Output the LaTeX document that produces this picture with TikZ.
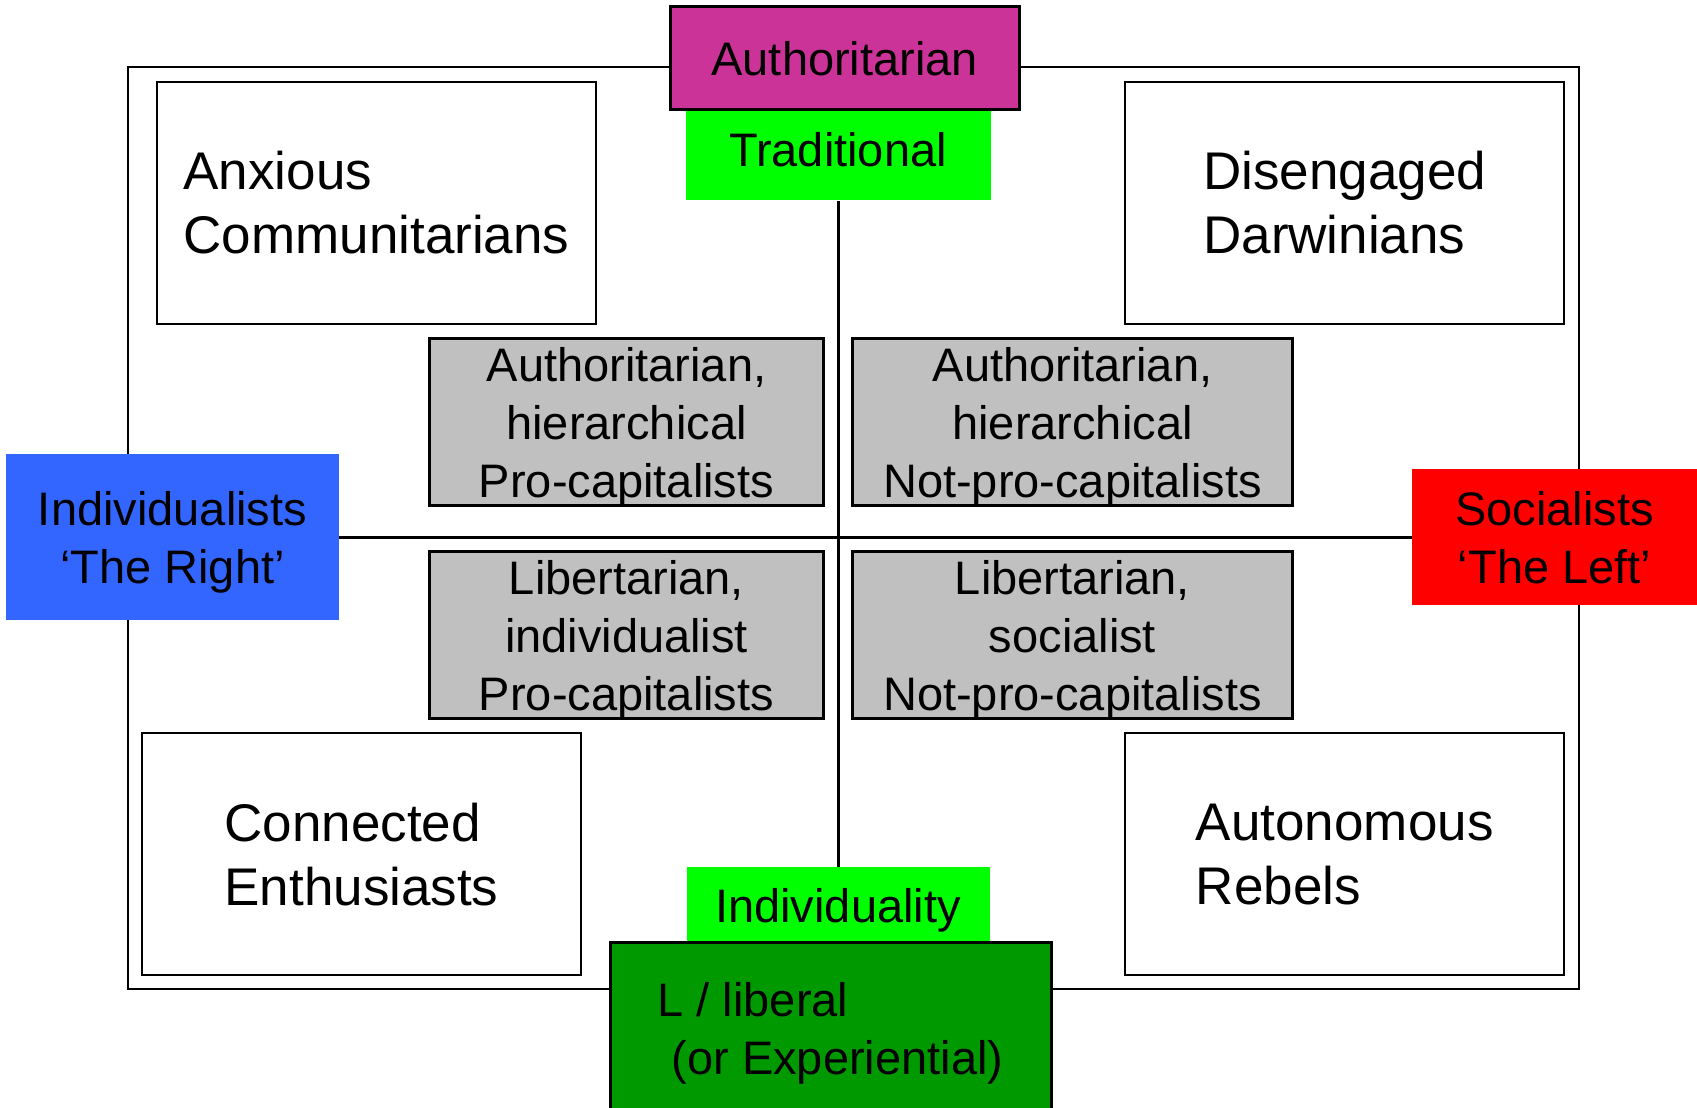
\documentclass[tikz,border=0pt]{standalone}
\usepackage{fontspec}
\setmainfont{Liberation Sans}
\definecolor{authpink}{HTML}{CC3399}
\definecolor{tradgreen}{HTML}{00FF00}
\definecolor{libgreen}{HTML}{009900}
\definecolor{rightblue}{HTML}{3366FF}
\definecolor{leftred}{HTML}{FF0000}
\definecolor{blendgray}{HTML}{C0C0C0}
\begin{document}
\begin{tikzpicture}[x=50pt, y=50pt,
  medfont/.style={font=\fontsize{23.5pt}{29pt}\selectfont},
  bigfont/.style={font=\fontsize{26.5pt}{32pt}\selectfont},
  segbox/.style={draw, line width=1pt, inner sep=0pt, align=left, bigfont,
    minimum width=219.5pt, minimum height=121pt},
  blendbox/.style={draw, fill=blendgray, line width=1.5pt, inner sep=0pt, align=center, medfont,
    minimum height=83.5pt, text depth=0pt},
  polebox/.style={draw, line width=1.5pt, inner sep=0pt, medfont},
  tagbox/.style={inner sep=0pt, align=center, medfont}]

\useasboundingbox (0,0) rectangle (16.97,11.08);

% outer frame
\node[draw, line width=1pt, minimum width=725.5pt, minimum height=461.25pt] (frame) at (8.53,5.7975) {};

% poles of the vertical axis
\node[polebox, fill=authpink, minimum width=174.75pt, minimum height=51.75pt] (authoritarian) at (8.4475,10.4975) {Authoritarian};
\node[tagbox, fill=tradgreen, minimum width=152.5pt, minimum height=44.5pt, text depth=6.5pt] (traditional) at (8.38,9.52) {Traditional};
\node[tagbox, fill=tradgreen, minimum width=151.5pt, minimum height=38pt, text depth=0pt] (individuality) at (8.38,2.03) {Individuality};
\node[polebox, fill=libgreen, align=left, minimum width=220.5pt, minimum height=90pt] (liberal) at (8.305,0.75) {L / liberal\\\hspace*{0.3em}(or Experiential)};

% poles of the horizontal axis
\node[tagbox, fill=rightblue, minimum width=166.5pt, minimum height=82.75pt, text depth=0pt] (right) at (1.725,5.7075) {Individualists\\‘The Right’};
\node[tagbox, fill=leftred, minimum width=142.5pt, minimum height=68.25pt] (left) at (15.545,5.7075) {Socialists\\‘The Left’};

% axes
\draw[line width=1.5pt] (traditional.south) -- (individuality.north);
\draw[line width=1.5pt] (right.east) -- (left.west);

% segments in the corners
\node[segbox] (anxious) at (3.765,9.05) {Anxious\\Communitarians};
\node[segbox] (disengaged) at (13.4475,9.05) {Disengaged\\Darwinians};
\node[segbox] (connected) at (3.615,2.5375) {Connected\\Enthusiasts};
\node[segbox] (autonomous) at (13.4475,2.5375) {Autonomous\\Rebels};

% blends next to the centre
\node[blendbox, minimum width=197pt] (authpro) at (6.265,6.8575) {Authoritarian,\\hierarchical\\Pro-capitalists};
\node[blendbox, minimum width=220pt] (authnot) at (10.725,6.8575) {Authoritarian,\\hierarchical\\Not-pro-capitalists};
\node[blendbox, minimum width=197pt] (libpro) at (6.265,4.73) {Libertarian,\\individualist\\Pro-capitalists};
\node[blendbox, minimum width=220pt] (libnot) at (10.725,4.73) {Libertarian,\\socialist\\Not-pro-capitalists};

\end{tikzpicture}
\end{document}
